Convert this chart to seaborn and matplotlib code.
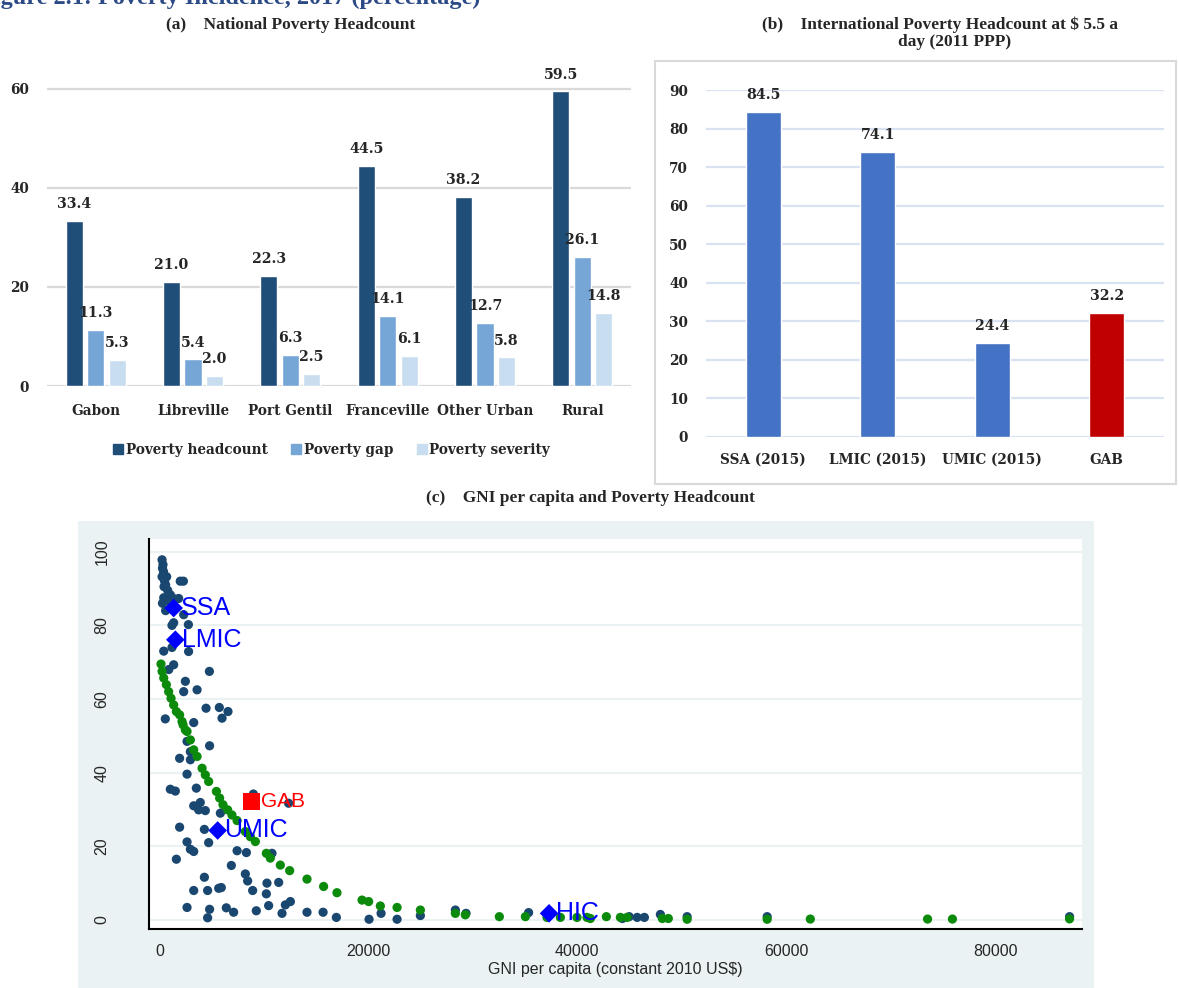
import matplotlib
matplotlib.use("Agg")
import matplotlib.pyplot as plt
from matplotlib.lines import Line2D
from matplotlib.patches import Rectangle
import seaborn as sns
import pandas as pd

# ---------------- data ----------------
cats_a = ["Gabon", "Libreville", "Port Gentil", "Franceville", "Other Urban", "Rural"]
headcount = [33.4, 21.0, 22.3, 44.5, 38.2, 59.5]
pov_gap = [11.3, 5.4, 6.3, 14.1, 12.7, 26.1]
severity = [5.3, 2.0, 2.5, 6.1, 5.8, 14.8]
measures = ["Poverty headcount", "Poverty gap", "Poverty severity"]

cats_b = ["SSA (2015)", "LMIC (2015)", "UMIC (2015)", "GAB"]
intl = [84.5, 74.1, 24.4, 32.2]

country_gni = [260, 350, 400, 260, 700, 500, 2000, 2300, 600, 1050, 420, 1370, 1850, 600,
               2330, 1370, 1210, 2780, 420, 1210, 2800, 1370, 900, 4790, 2490, 2330, 3610,
               4470, 5740, 6570, 570, 6000, 3290, 2650, 4810, 2970, 1940, 2970, 2650, 1050,
               1530, 3540, 3290, 3920, 3760, 4400, 5840, 9000, 12370, 1940, 4310, 4720, 2650,
               2970, 3290, 1630, 7440, 8330, 10780, 6890, 4310, 8230, 8450, 10300, 11420,
               3290, 4620, 5680, 5930, 8930, 10240, 12060, 12540, 2650, 4810, 6410, 7110,
               9280, 10460, 11740, 14130, 15670, 16940, 4620, 20070, 21220, 22750, 24980,
               28330, 29350, 35340, 44310, 44960, 45730, 46420, 47950, 50510, 58170, 87110,
               300, 450, 800, 300, 900]
country_pov = [97.8, 96.5, 94.6, 93.2, 93.2, 92.0, 92.0, 92.0, 91.0, 88.3, 87.5, 87.3, 87.3, 84.0,
               82.9, 80.7, 80.0, 80.2, 73.0, 74.0, 72.9, 69.3, 68.0, 67.5, 64.8, 62.0, 62.5,
               57.5, 57.7, 56.6, 54.6, 54.8, 53.6, 48.5, 47.3, 45.7, 43.9, 43.5, 39.6, 35.5,
               35.0, 35.8, 31.0, 31.9, 29.9, 29.7, 29.0, 34.2, 31.7, 25.2, 24.6, 21.0, 21.2,
               19.2, 18.6, 16.5, 18.8, 18.3, 18.1, 14.8, 11.6, 12.5, 10.6, 10.0, 10.2,
               8.0, 8.0, 8.6, 8.8, 8.0, 7.1, 4.1, 5.0, 3.4, 2.9, 3.3, 2.1,
               2.5, 3.9, 1.8, 2.1, 2.1, 0.7, 0.6, 0.2, 1.8, 0.2, 1.2,
               2.7, 1.8, 2.0, 0.4, 0.9, 0.7, 0.7, 1.5, 0.9, 0.9, 0.9,
               95.5, 90.5, 89.5, 86.0, 86.5]

fitted_gni = [160, 260, 420, 670, 890, 1120, 1370, 1630, 1940, 2170, 2270, 2490, 2650, 2970,
              3290, 3610, 4090, 4400, 4720, 5460, 5770, 6090, 6540, 6950, 7440, 8230, 8710,
              9190, 10240, 10620, 11580, 12470, 14130, 15720, 17000, 19400, 20030, 21150,
              22750, 24980, 28330, 29280, 32540, 35030, 37100, 38380, 39970, 40930, 41250,
              42780, 44120, 44760, 48140, 48710, 50510, 58170, 62300, 73520, 75900, 87110]
fitted_pov = [69.5, 67.5, 65.7, 63.9, 62.0, 60.2, 58.4, 56.6, 55.7, 53.9, 53.0, 51.6, 51.2, 48.9,
              46.2, 44.4, 41.2, 39.4, 37.6, 34.9, 33.1, 31.3, 29.9, 28.5, 27.0, 24.0, 22.6,
              21.3, 18.1, 16.8, 14.9, 13.4, 11.1, 9.1, 7.4, 5.4, 5.0, 3.8,
              3.4, 2.7, 1.8, 1.4, 0.9, 0.9, 0.7, 0.7, 0.7, 0.7, 0.4,
              0.9, 0.7, 0.7, 0.4, 0.4, 0.2, 0.2, 0.25, 0.25, 0.25, 0.3]

group_names = ["SSA", "LMIC", "UMIC", "HIC"]
group_gni = [1370, 1530, 5580, 37300]
group_pov = [84.7, 76.1, 24.3, 1.8]
gab_gni = [8780]
gab_pov = [32.3]

# ---------------- style ----------------
sns.set_style("white")
plt.rcParams["font.family"] = ["DejaVu Sans"]

W, H = 1179, 988
fig = plt.figure(figsize=(W / 100, H / 100), dpi=100)


def fx(px):
    return px / W


def fy(py):
    return 1 - py / H


tick_font = dict(family="DejaVu Serif", weight="bold", size=9.8)
value_font = dict(family="DejaVu Serif", weight="bold", size=10.2)
title_font = dict(family="Liberation Serif", weight="bold", size=12.5)

# top (cut) figure title
fig.text(fx(480), fy(4), "Figure 2.1: Poverty Incidence, 2017 (percentage)", ha="right",
         va="baseline", color="#2C4A86", family="Liberation Serif", weight="bold", size=17.5)

# ---------------- panel (a) ----------------
col_a = ["#1F4E79", "#75A6D6", "#C8DDEF"]
df_a = pd.DataFrame({
    "cat": cats_a * 3,
    "measure": [measures[0]] * 6 + [measures[1]] * 6 + [measures[2]] * 6,
    "value": headcount + pov_gap + severity,
})
axa = fig.add_axes([fx(47), fy(386), fx(631) - fx(47), fy(64) - fy(386)])
sns.barplot(data=df_a, x="cat", y="value", hue="measure", palette=col_a, width=0.66, gap=0.2,
            saturation=1, legend=False, ax=axa)
axa.set_ylim(0, 65)
axa.set_yticks([0, 20, 40, 60])
axa.set_xlabel("")
axa.set_ylabel("")
axa.yaxis.grid(True, color="#D9D9D9", lw=1.6)
axa.set_axisbelow(True)
for s in axa.spines.values():
    s.set_visible(False)
axa.tick_params(length=0)
axa.tick_params(axis="y", pad=13)
axa.tick_params(axis="x", pad=13)
for lab in axa.get_xticklabels() + axa.get_yticklabels():
    lab.set(**tick_font)
for cont in axa.containers:
    axa.bar_label(cont, fmt="%.1f", padding=7, **value_font)
handles = [Line2D([], [], marker="s", ls="", color=c, markersize=7) for c in col_a]
fig.legend(handles, measures, loc="center", bbox_to_anchor=(fx(332), fy(450)), ncol=3,
           frameon=False, prop=dict(family="DejaVu Serif", weight="bold", size=9.8),
           handlelength=0.6, handletextpad=0.25, columnspacing=1.8)
fig.text(fx(291), fy(25), "(a)    National Poverty Headcount", ha="center", va="center",
         **title_font)

# ---------------- panel (b) ----------------
fig.add_artist(Rectangle((fx(655), fy(484)), fx(1176) - fx(655), fy(61) - fy(484),
                         transform=fig.transFigure, fill=False, ec="#D9D9D9", lw=1.5))
axb = fig.add_axes([fx(706), fy(436.5), fx(1164) - fx(706), fy(90.5) - fy(436.5)])
sns.barplot(x=cats_b, y=intl, hue=cats_b, palette=["#4472C4", "#4472C4", "#4472C4", "#C00000"],
            width=0.31, saturation=1, legend=False, ax=axb)
axb.set_ylim(0, 90)
axb.set_yticks(range(0, 91, 10))
axb.yaxis.grid(True, color="#D9E2F3", lw=1.6)
axb.set_axisbelow(True)
for s in axb.spines.values():
    s.set_visible(False)
axb.tick_params(length=0)
axb.tick_params(axis="y", pad=13)
axb.tick_params(axis="x", pad=12)
for lab in axb.get_xticklabels() + axb.get_yticklabels():
    lab.set(**tick_font)
for cont in axb.containers:
    axb.bar_label(cont, fmt="%.1f", padding=7, clip_on=False, **value_font)
fig.text(fx(940), fy(25), "(b)    International Poverty Headcount at $ 5.5 a", ha="center",
         va="center", **title_font)
fig.text(fx(955), fy(42), "day (2011 PPP)", ha="center", va="center", **title_font)

# ---------------- panel (c) ----------------
fig.text(fx(590), fy(498), "(c)    GNI per capita and Poverty Headcount", ha="center",
         va="center", **title_font)
fig.add_artist(Rectangle((fx(78), 0), fx(1094) - fx(78), fy(521), transform=fig.transFigure,
                         fc="#EAF2F3", ec="none", zorder=0))
axc = fig.add_axes([fx(149), fy(929), fx(1082) - fx(149), fy(539) - fy(929)])
axc.set_facecolor("white")
sns.scatterplot(x=country_gni, y=country_pov, color="#1A476F", s=44, edgecolor="none",
                ax=axc, zorder=2)
sns.scatterplot(x=fitted_gni, y=fitted_pov, color="#0B8A0B", s=44, edgecolor="none",
                ax=axc, zorder=3)
sns.scatterplot(x=group_gni, y=group_pov, color="#0000FF", marker="D", s=90, edgecolor="none",
                ax=axc, zorder=4)
sns.scatterplot(x=gab_gni, y=gab_pov, color="#FF0000", marker="s", s=150, edgecolor="none",
                ax=axc, zorder=4)
for n, gx, gy in zip(group_names, group_gni, group_pov):
    axc.annotate(n, (gx, gy), xytext=(5, 0), textcoords="offset points", ha="left",
                 va="center", color="#0000FF", family="Liberation Sans", size=18, zorder=5)
axc.annotate("GAB", (gab_gni[0], gab_pov[0]), xytext=(7, 0), textcoords="offset points",
             ha="left", va="center", color="#FF0000", family="Liberation Sans", size=15,
             zorder=5)
axc.set_xlim(-990, 88300)
axc.set_ylim(-2.45, 103.45)
axc.set_xticks([0, 20000, 40000, 60000, 80000])
axc.set_xticklabels(["0", "20000", "40000", "60000", "80000"])
axc.set_yticks([0, 20, 40, 60, 80, 100])
axc.yaxis.grid(True, color="#EAF2F3", lw=1.5)
axc.set_axisbelow(True)
axc.spines["top"].set_visible(False)
axc.spines["right"].set_visible(False)
axc.spines["left"].set_linewidth(1.5)
axc.spines["bottom"].set_linewidth(1.5)
axc.spines["left"].set_color("black")
axc.spines["bottom"].set_color("black")
axc.tick_params(axis="both", length=6, width=1.2, color="black", direction="out",
                labelsize=11.5)
axc.tick_params(axis="x", pad=5)
axc.tick_params(axis="y", pad=28)
for lab in axc.get_yticklabels():
    lab.set_rotation(90)
    lab.set_va("center")
    lab.set_ha("center")
for lab in axc.get_xticklabels() + axc.get_yticklabels():
    lab.set_family("Liberation Sans")
axc.set_xlabel("GNI per capita (constant 2010 US$)", family="Liberation Sans", size=11.5,
               labelpad=2)
axc.set_ylabel("")

fig.savefig("out.png", dpi=100)
